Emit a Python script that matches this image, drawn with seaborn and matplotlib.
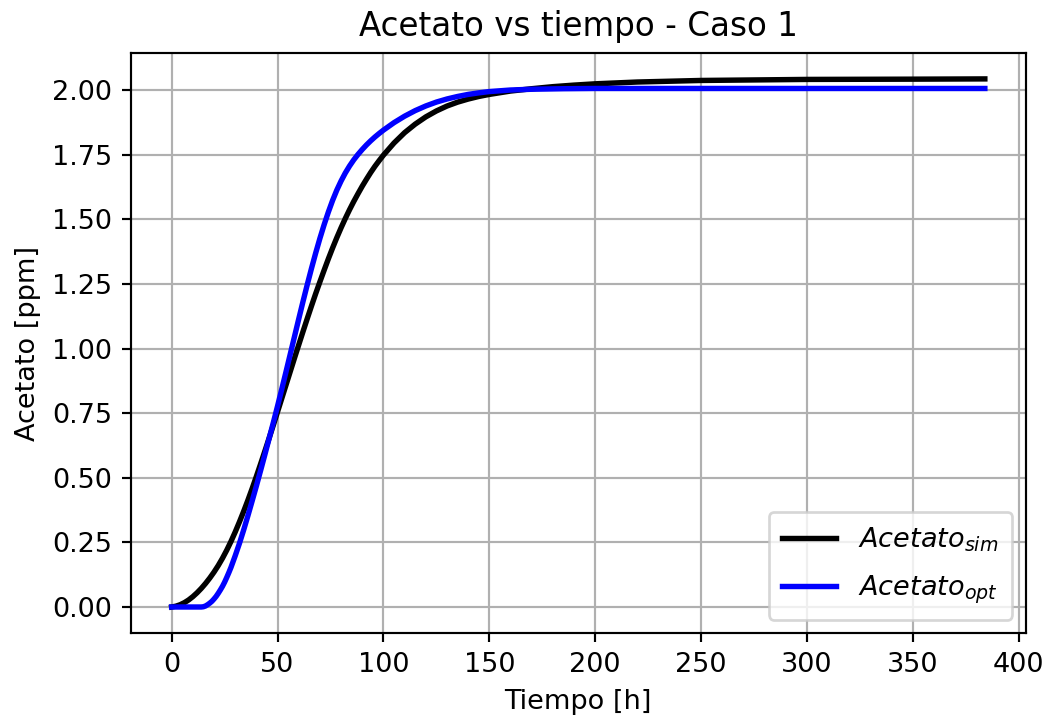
import matplotlib
matplotlib.use("Agg")
import matplotlib.pyplot as plt
import seaborn as sns
import pandas as pd

# Acetato simulado
t_sim = [0, 2, 4, 6, 8, 10, 12, 14, 16, 18, 20, 22, 24, 26, 28, 30, 32, 34, 36, 38,
         40, 42, 44, 46, 48, 50, 52, 54, 56, 58, 60, 62, 64, 66, 68, 70, 72, 74, 76,
         78, 80, 82, 84, 86, 88, 90, 92, 94, 96, 98, 100, 105, 110, 115, 120, 125,
         130, 135, 140, 145, 150, 160, 170, 180, 190, 200, 220, 250, 300, 350, 384]
y_sim = [0.0, 0.0032, 0.0088, 0.0168, 0.0272, 0.04, 0.055, 0.072, 0.091, 0.112,
         0.135, 0.1604, 0.1886, 0.2196, 0.2534, 0.29, 0.329, 0.37, 0.413, 0.458,
         0.505, 0.5534, 0.6026, 0.6526, 0.7034, 0.755, 0.807, 0.859, 0.911, 0.963,
         1.014, 1.065, 1.115, 1.164, 1.212, 1.258, 1.303, 1.347, 1.389, 1.429, 1.467,
         1.503, 1.537, 1.569, 1.599, 1.628, 1.655, 1.681, 1.705, 1.727, 1.748, 1.795,
         1.835, 1.868, 1.896, 1.919, 1.938, 1.953, 1.965, 1.975, 1.983, 1.996, 2.005,
         2.013, 2.019, 2.024, 2.031, 2.037, 2.041, 2.042, 2.043]

# Acetato optimizado
t_opt = [0, 10, 14, 15, 16, 17, 18, 19, 20, 21, 22, 23, 24, 25, 26, 27, 28, 30, 32,
         34, 36, 38, 40, 42, 44, 46, 48, 50, 52, 54, 56, 58, 60, 62, 64, 66, 68, 70,
         72, 74, 76, 78, 80, 82, 84, 86, 88, 90, 92, 94, 96, 98, 100, 105, 110, 115,
         120, 125, 130, 135, 140, 145, 150, 160, 170, 185, 200, 250, 300, 384]
y_opt = [0.0, 0.0, 0.0, 0.001, 0.004, 0.009, 0.015, 0.022, 0.031, 0.041, 0.053,
         0.066, 0.08, 0.096, 0.114, 0.133, 0.153, 0.198, 0.246, 0.298, 0.353, 0.41,
         0.468, 0.528, 0.589, 0.651, 0.713, 0.777, 0.843, 0.91, 0.978, 1.046, 1.114,
         1.181, 1.246, 1.309, 1.369, 1.426, 1.479, 1.528, 1.573, 1.613, 1.648, 1.679,
         1.706, 1.73, 1.751, 1.77, 1.7876, 1.8036, 1.8184, 1.832, 1.8448, 1.8738,
         1.8988, 1.9203, 1.9383, 1.9533, 1.9653, 1.975, 1.983, 1.989, 1.994, 2.0,
         2.003, 2.005, 2.006, 2.006, 2.006, 2.006]

labels = [r"$Acetato_{sim}$", r"$Acetato_{opt}$"]

df_sim = pd.DataFrame({"t": t_sim, "y": y_sim})
df_opt = pd.DataFrame({"t": t_opt, "y": y_opt})

dpi = 195
fig = plt.figure(figsize=(1049 / dpi, 719 / dpi), dpi=dpi)
ax = fig.add_axes([131 / 1049, (719 - 633.4) / 719, (1025.5 - 131) / 1049, (633.4 - 52.5) / 719])

sns.lineplot(data=df_sim, x="t", y="y", color="black", linewidth=2, label=labels[0], ax=ax)
sns.lineplot(data=df_opt, x="t", y="y", color="blue", linewidth=2, label=labels[1], ax=ax)

ax.set_xticks([0, 50, 100, 150, 200, 250, 300, 350, 400])
yt = [0.0, 0.25, 0.5, 0.75, 1.0, 1.25, 1.5, 1.75, 2.0]
ax.set_yticks(yt)
ax.set_yticklabels([f"{v:.2f}" for v in yt])
ax.grid(True, color="#b0b0b0", linewidth=0.8)
ax.set_title("Acetato vs tiempo - Caso 1", fontsize=12)
ax.set_xlabel("Tiempo [h]")
ax.set_ylabel("Acetato [ppm]")
ax.legend(loc="lower right", labelspacing=0.75, borderpad=0.5)

fig.savefig("out.png", dpi=dpi)
